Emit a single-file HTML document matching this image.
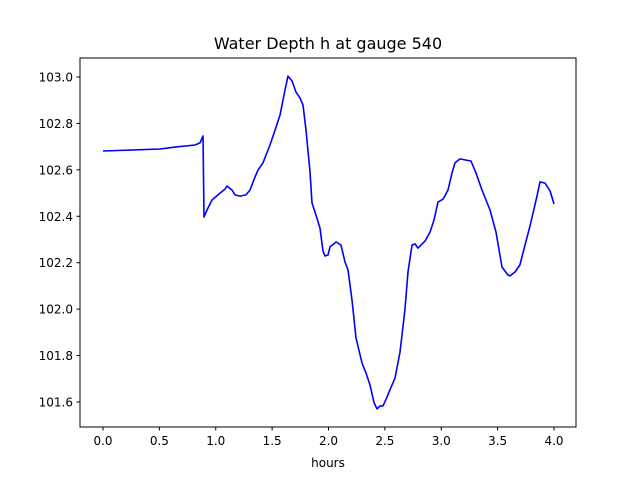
<!DOCTYPE html>
<html><head><meta charset="utf-8"><style>
body{margin:0;background:#fff;}
svg text{font-family:"DejaVu Sans","Liberation Sans",sans-serif;}
</style></head><body>
<svg width="640" height="480" viewBox="0 0 640 480">
<rect width="640" height="480" fill="#fff"/>
<text x="328" y="49" font-size="16" text-anchor="middle">Water Depth h at gauge 540</text>
<g id="ticks"></g>
<path id="line" fill="none" stroke="#0000ff" stroke-width="1.6" stroke-linejoin="round"/>
<rect x="80" y="58" width="496" height="369" fill="none" stroke="#000" stroke-width="1"/>
<text x="328" y="467" font-size="12" text-anchor="middle">hours</text>
</svg>
<script>
const hours=[0,0.506,0.639,0.816,0.86,0.887,0.896,0.922,0.967,1.038,1.082,1.1,1.144,1.171,1.215,1.268,1.304,1.348,1.375,1.419,1.446,1.481,1.526,1.57,1.614,1.641,1.676,1.712,1.747,1.774,1.8,1.836,1.854,1.889,1.925,1.951,1.969,1.996,2.013,2.067,2.111,2.146,2.173,2.208,2.244,2.297,2.333,2.368,2.404,2.43,2.457,2.483,2.519,2.545,2.59,2.634,2.678,2.705,2.741,2.767,2.794,2.82,2.856,2.9,2.936,2.971,3.016,3.06,3.095,3.122,3.166,3.22,3.264,3.308,3.361,3.432,3.486,3.539,3.592,3.61,3.654,3.698,3.743,3.787,3.849,3.876,3.92,3.965,4.0];
const depth=[102.681,102.69,102.698,102.707,102.716,102.746,102.397,102.427,102.47,102.5,102.517,102.53,102.513,102.492,102.487,102.492,102.513,102.569,102.599,102.63,102.664,102.707,102.772,102.836,102.944,103.004,102.983,102.935,102.91,102.879,102.772,102.591,102.457,102.405,102.349,102.25,102.229,102.233,102.268,102.289,102.276,102.203,102.169,102.039,101.876,101.768,101.725,101.673,101.596,101.57,101.583,101.583,101.621,101.652,101.703,101.815,101.996,102.16,102.276,102.281,102.263,102.276,102.293,102.332,102.384,102.461,102.474,102.513,102.586,102.63,102.647,102.642,102.638,102.586,102.513,102.427,102.332,102.181,102.147,102.143,102.16,102.19,102.276,102.358,102.487,102.548,102.543,102.509,102.453];
const xTicks=[0,0.5,1,1.5,2,2.5,3,3.5,4];
const xTickLabels=["0.0","0.5","1.0","1.5","2.0","2.5","3.0","3.5","4.0"];
const yTicks=[101.6,101.8,102.0,102.2,102.4,102.6,102.8,103.0];
const yTickLabels=["101.6","101.8","102.0","102.2","102.4","102.6","102.8","103.0"];
const X=h=>103+h*112.75;
const Y=v=>77+(103-v)/0.004308;
const NS="http://www.w3.org/2000/svg";
const g=document.getElementById('ticks');
function mk(t,a){const e=document.createElementNS(NS,t);for(const k in a)e.setAttribute(k,a[k]);return e;}
xTicks.forEach((t,i)=>{
 const l=mk('line',{x1:X(t),x2:X(t),y1:427,y2:430.5,stroke:'#000'});
 
 
 g.appendChild(l);
 const tx=mk('text',{x:X(t),y:445,'font-size':12,'text-anchor':'middle'});
 tx.textContent=xTickLabels[i];
 
 
 g.appendChild(tx);
});
yTicks.forEach((t,i)=>{
 const l=mk('line',{x1:76.5,x2:80,y1:Y(t),y2:Y(t),stroke:'#000'});
 
 
 g.appendChild(l);
 const tx=mk('text',{x:73,y:Y(t)+4.5,'font-size':12,'text-anchor':'end'});
 tx.textContent=yTickLabels[i];
 
 
 g.appendChild(tx);
});
document.getElementById('line').setAttribute('d',hours.map((h,i)=>(i?'L':'M')+X(h).toFixed(1)+' '+Y(depth[i]).toFixed(1)).join(' '));
</script>
</body></html>
